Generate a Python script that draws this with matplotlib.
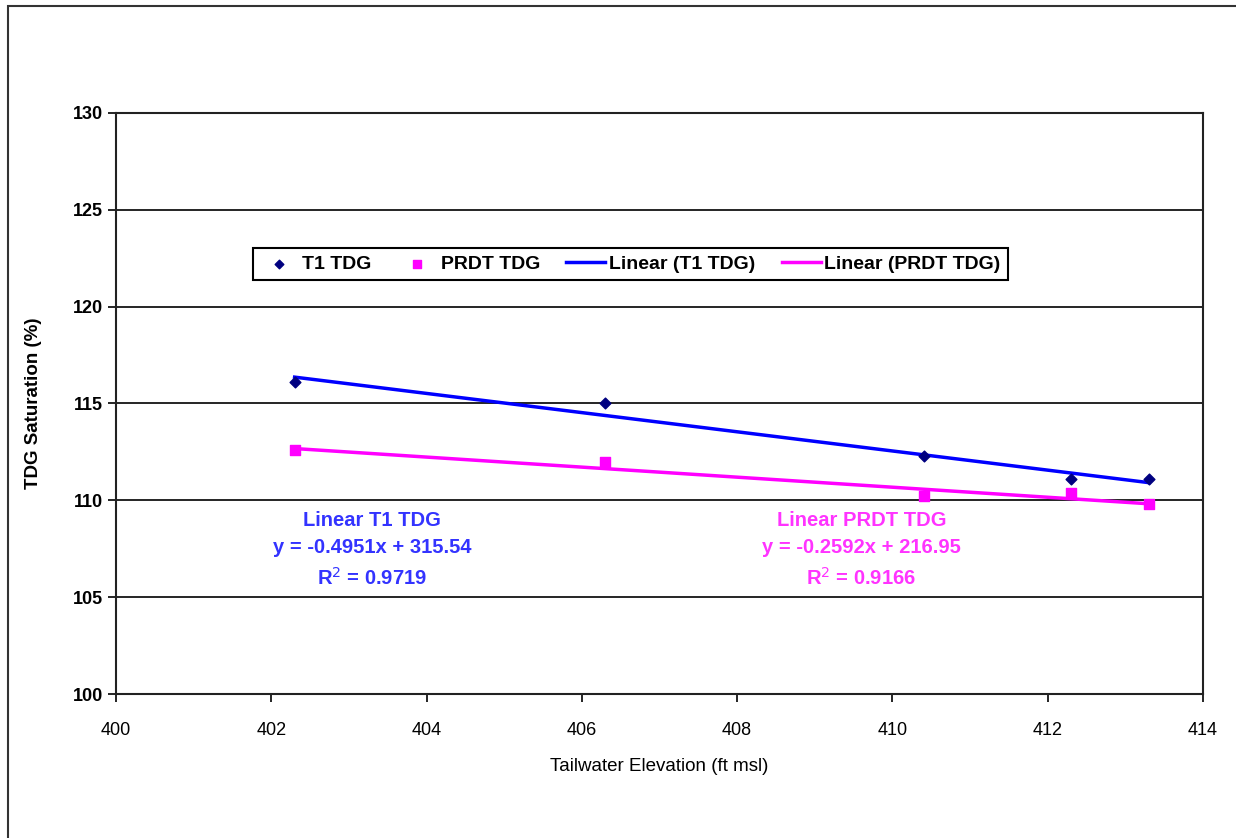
import matplotlib.pyplot as plt
from matplotlib.patches import Rectangle

plt.rcParams['font.family'] = ['Liberation Sans', 'DejaVu Sans']

# tailwater elevation (ft msl) and TDG saturation (%)
t1_x = [402.3, 406.3, 410.4, 412.3, 413.3]
t1_y = [116.1, 115.0, 112.3, 111.1, 111.1]
prdt_x = [402.3, 406.3, 410.4, 412.3, 413.3]
prdt_y = [112.6, 112.0, 110.2, 110.4, 109.8]

# fitted trend lines: slope, intercept, R^2
t1_fit = (-0.4951, 315.54, 0.9719)
prdt_fit = (-0.2592, 216.95, 0.9166)

blue_txt = '#3333ff'
pink_txt = '#ff33ff'

fig = plt.figure(figsize=(12.36, 8.38), dpi=100)
fig.patches.append(Rectangle((8 / 1236, -0.01), 1.02, 1 - 6 / 838 + 0.01,
                             transform=fig.transFigure, fill=False,
                             edgecolor='#333333', linewidth=1.5))
ax = fig.add_axes([0.0939, 0.1718, 0.8794, 0.6934])

ax.set_xlim(400, 414)
ax.set_ylim(100, 130)
ax.set_xticks(range(400, 415, 2))
ax.set_yticks(range(100, 131, 5))
for yv in range(105, 131, 5):
    ax.axhline(yv, color='black', linewidth=1.2, zorder=1)

xs = [min(t1_x), max(t1_x)]
ax.plot(xs, [t1_fit[0] * x + t1_fit[1] for x in xs], color='#0000ff',
        linewidth=2.5, zorder=3, label='Linear (T1 TDG)')
xs = [min(prdt_x), max(prdt_x)]
ax.plot(xs, [prdt_fit[0] * x + prdt_fit[1] for x in xs], color='#ff00ff',
        linewidth=2.5, zorder=3, label='Linear (PRDT TDG)')
ax.scatter(t1_x, t1_y, marker='D', s=30, color='#000080', zorder=4,
           label='T1 TDG')
ax.scatter(prdt_x, prdt_y, marker='s', s=55, color='#ff00ff', zorder=4,
           label='PRDT TDG')

h, l = ax.get_legend_handles_labels()
order = [2, 3, 0, 1]
leg = ax.legend([h[i] for i in order], [l[i] for i in order], ncol=4,
                loc='center', bbox_to_anchor=(0.473, 0.740),
                prop={'weight': 'bold', 'size': 14}, fancybox=False,
                edgecolor='black', framealpha=1, handlelength=2.0,
                handletextpad=0.2, columnspacing=1.35, borderpad=0.35,
                borderaxespad=0, scatterpoints=1, markerscale=0.8)
leg.get_frame().set_linewidth(1.5)

ax.text(403.3, 109.45, 'Linear T1 TDG\ny = %.4fx + %.2f\nR$^2$ = %.4f' % t1_fit,
        color=blue_txt, fontsize=14.5, fontweight='bold', ha='center',
        va='top', linespacing=1.55)
ax.text(409.6, 109.45, 'Linear PRDT TDG\ny = %.4fx + %.2f\nR$^2$ = %.4f' % prdt_fit,
        color=pink_txt, fontsize=14.5, fontweight='bold', ha='center',
        va='top', linespacing=1.55)

for sp in ax.spines.values():
    sp.set_linewidth(1.5)
    sp.set_color('#222222')
ax.tick_params(direction='out', length=6, width=1.2)
for t in ax.get_yticklabels():
    t.set_fontweight('bold')
    t.set_fontsize(13)
for t in ax.get_xticklabels():
    t.set_fontsize(13)
ax.tick_params(axis='x', pad=14)
ax.set_xlabel('Tailwater Elevation (ft msl)', fontsize=13.5, labelpad=14)
ax.set_ylabel('TDG Saturation (%)', fontsize=13.5, fontweight='bold', labelpad=22)

fig.savefig('out.png', dpi=100)
